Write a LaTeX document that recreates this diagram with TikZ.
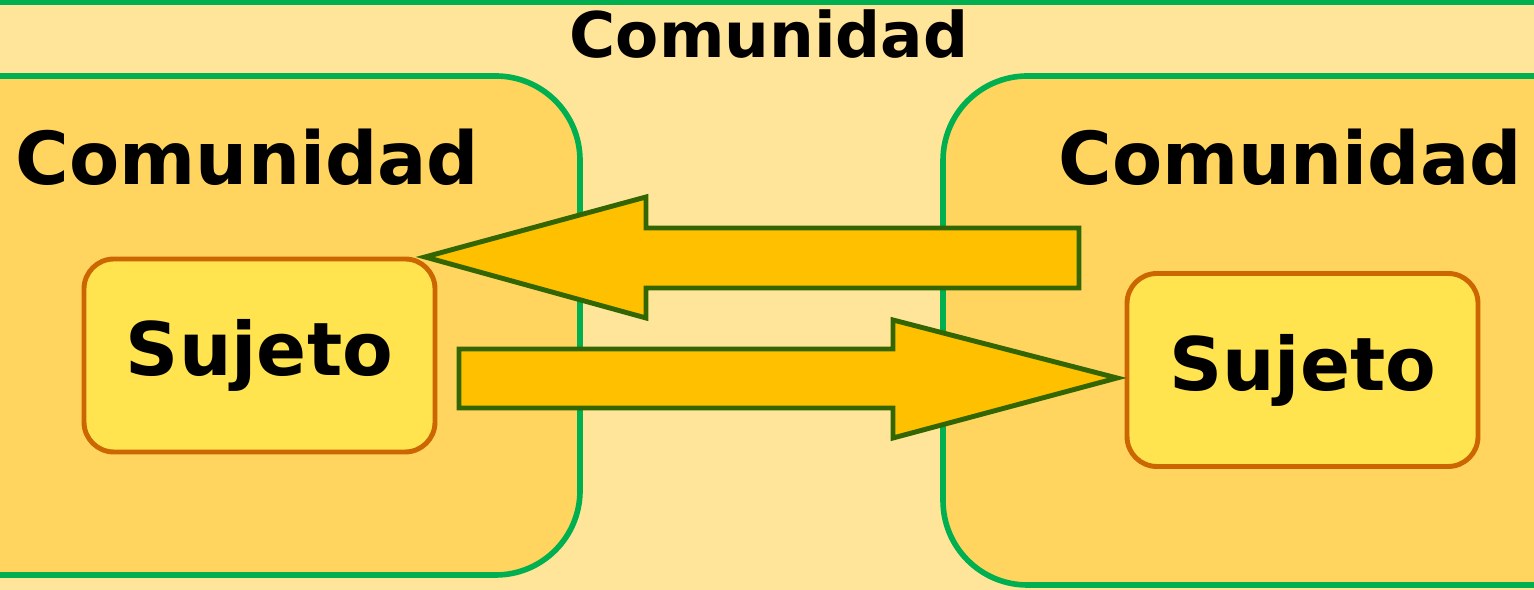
\documentclass[tikz,border=0pt]{standalone}
\usepackage{fontspec}
\setmainfont{DejaVu Sans}
\usetikzlibrary{positioning}

\definecolor{fondo}{HTML}{FFE59A}
\definecolor{caja}{HTML}{FFD55F}
\definecolor{sujfill}{HTML}{FFE34F}
\definecolor{sujline}{HTML}{CC6600}
\definecolor{verde}{HTML}{00B050}
\definecolor{flecha}{HTML}{FFC000}
\definecolor{flechaline}{HTML}{336600}

\tikzset{
  comunidad/.style={draw=verde,line width=1.6pt,fill=caja,rounded corners=24pt},
  sujeto/.style={draw=sujline,line width=1.4pt,fill=sujfill,rounded corners=8.5pt,
    minimum width=3.51cm,minimum height=1.93cm,inner sep=0pt,
    font=\bfseries\fontsize{21}{21}\selectfont},
  titulo/.style={font=\bfseries\fontsize{20.8}{21}\selectfont,inner sep=0pt},
  bloque/.style={draw=flechaline,line width=1.4pt,fill=flecha,line join=miter}
}

\begin{document}
\begin{tikzpicture}
\useasboundingbox (0,0) rectangle (15.34,5.90);
\fill[fondo] (0,0) rectangle (15.34,5.90);
\clip (0,0) rectangle (15.34,5.90);
% outer community
\draw[verde,line width=1.6pt] (-0.5,-0.5) rectangle (15.84,5.88);
\node[titulo,font=\bfseries\fontsize{17.9}{18}\selectfont,anchor=base] (comTop) at (7.69,5.32) {Comunidad};
% inner communities
\draw[comunidad] (-1.00,0.15) rectangle (5.80,5.14);
\draw[comunidad] (9.43,0.05) rectangle (16.50,5.14);
\node[titulo,anchor=base] (comL) at (2.475,4.05) {Comunidad};
\node[titulo,anchor=base] (comR) at (12.90,4.05) {Comunidad};
% subjects
\node[sujeto] (sujetoL) at (2.595,2.345) {Sujeto};
\node[sujeto] (sujetoR) at (13.025,2.200) {Sujeto};
% block arrows
\draw[bloque] (4.25,3.33) -- (6.46,3.93) -- (6.46,3.62) -- (10.79,3.62)
  -- (10.79,3.02) -- (6.46,3.02) -- (6.46,2.72) -- cycle;
\draw[bloque] (4.59,2.41) -- (8.93,2.41) -- (8.93,2.70) -- (11.17,2.12)
  -- (8.93,1.52) -- (8.93,1.82) -- (4.59,1.82) -- cycle;
\end{tikzpicture}
\end{document}
